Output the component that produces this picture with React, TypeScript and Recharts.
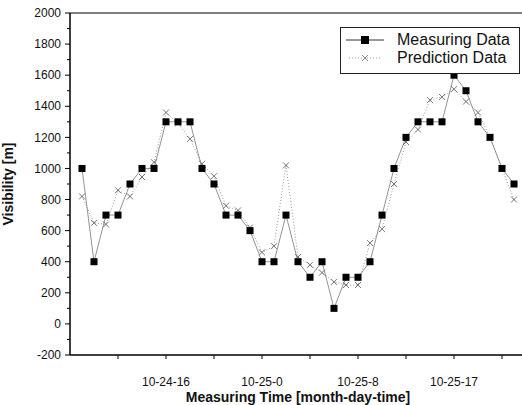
import React from 'react';
import {
  LineChart,
  Line,
  XAxis,
  YAxis,
  ReferenceLine,
  Legend,
  Label,
} from 'recharts';

// hourly samples, 10-24 09:00 onward
const hourIndex = [
  1, 2, 3, 4, 5, 6, 7, 8, 9, 10, 11, 12, 13, 14, 15, 16, 17, 18, 19,
  20, 21, 22, 23, 24, 25, 26, 27, 28, 29, 30, 31, 32, 33, 34, 35, 36, 37,
];

const measured = [
  1000, 400, 700, 700, 900, 1000, 1000, 1300, 1300, 1300, 1000, 900, 700,
  700, 600, 400, 400, 700, 400, 300, 400, 100, 300, 300, 400, 700, 1000,
  1200, 1300, 1300, 1300, 1600, 1500, 1300, 1200, 1000, 900,
];

const predicted = [
  820, 650, 640, 860, 820, 945, 1040, 1360, 1290, 1190, 1030, 950, 760,
  730, 620, 460, 500, 1020, 430, 380, 330, 270, 250, 250, 520, 610, 900,
  1170, 1250, 1440, 1460, 1510, 1430, 1360, 1200, 1000, 800,
];

const xTicks = [4, 8, 12, 16, 20, 24, 28, 32, 36];
const xLabelTicks = [8, 16, 24, 32];
const xLabels = ['10-24-16', '10-25-0', '10-25-8', '10-25-17'];

const yTicks = [
  -200, -100, 0, 100, 200, 300, 400, 500, 600, 700, 800, 900, 1000, 1100,
  1200, 1300, 1400, 1500, 1600, 1700, 1800, 1900, 2000,
];

const data = hourIndex.map((h, i) => ({
  h,
  measured: measured[i],
  predicted: predicted[i],
}));

const FONT = '"Liberation Sans", Arial, sans-serif';

const SquareDot = (props: any) => {
  const { cx, cy } = props;
  if (cx == null || cy == null) return null;
  return <rect x={cx - 3.5} y={cy - 3.5} width={7} height={7} fill="#000" />;
};

const CrossDot = (props: any) => {
  const { cx, cy } = props;
  if (cx == null || cy == null) return null;
  const s = 3;
  return (
    <g stroke="#666" strokeWidth={0.9}>
      <line x1={cx - s} y1={cy - s} x2={cx + s} y2={cy + s} />
      <line x1={cx - s} y1={cy + s} x2={cx + s} y2={cy - s} />
    </g>
  );
};

// y ticks: every 100 gets a mark, every 200 a longer mark and a label
const YTick = (props: any) => {
  const { x, y, payload } = props;
  const v = payload.value;
  const major = v % 200 === 0;
  const axisX = x + 9;
  return (
    <g>
      <line x1={axisX - (major ? 5 : 3)} x2={axisX} y1={y} y2={y} stroke="#000" />
      {major && (
        <text
          x={x}
          y={y}
          dy="0.35em"
          textAnchor="end"
          fontSize={12}
          fontFamily={FONT}
          fill="#111"
        >
          {v}
        </text>
      )}
    </g>
  );
};

const XTick = (props: any) => {
  const { x, y, payload } = props;
  const idx = xLabelTicks.indexOf(payload.value);
  const axisY = y - 22;
  return (
    <g>
      <line x1={x} x2={x} y1={axisY} y2={axisY + 4} stroke="#000" />
      {idx >= 0 && (
        <text
          x={x}
          y={y}
          dy="0.71em"
          textAnchor="middle"
          fontSize={12}
          fontFamily={FONT}
          fill="#111"
        >
          {xLabels[idx]}
        </text>
      )}
    </g>
  );
};

const LegendBox = () => (
  <div
    style={{
      width: 180,
      height: 47,
      border: '1px solid #222',
      background: '#fff',
      fontFamily: FONT,
      fontSize: 16,
      color: '#111',
      boxSizing: 'border-box',
      position: 'relative',
    }}
  >
    <svg width={54} height={45} style={{ position: 'absolute', left: 0, top: 0 }}>
      <line x1={5} x2={43} y1={12} y2={12} stroke="#333" strokeWidth={1} />
      <rect x={20} y={8} width={8} height={8} fill="#000" />
      <line x1={8} x2={40} y1={30} y2={30} stroke="#999" strokeWidth={1} strokeDasharray="1 2" />
      <g stroke="#777" strokeWidth={0.9}>
        <line x1={21} y1={27} x2={27} y2={33} />
        <line x1={21} y1={33} x2={27} y2={27} />
      </g>
    </svg>
    <div style={{ position: 'absolute', left: 56, top: 3, lineHeight: '18px' }}>Measuring Data</div>
    <div style={{ position: 'absolute', left: 56, top: 21, lineHeight: '18px' }}>Prediction Data</div>
  </div>
);

export default function App() {
  return (
    <div
      style={{
        position: 'fixed',
        left: 0,
        top: 0,
        width: 522,
        height: 405,
        overflow: 'hidden',
        background: '#fff',
      }}
    >
      <LineChart
        width={530}
        height={405}
        data={data}
        margin={{ top: 13, right: 4, bottom: 0, left: 0 }}
      >
        <XAxis
          dataKey="h"
          type="number"
          domain={[0, 38]}
          ticks={xTicks}
          interval={0}
          height={50}
          tickSize={4}
          tickMargin={18}
          tickLine={false}
          tick={<XTick />}
          axisLine={{ stroke: '#000', strokeWidth: 1.5 }}
        >
          <Label
            value="Measuring Time [month-day-time]"
            position="insideBottom"
            offset={3}
            style={{ fontFamily: FONT, fontSize: 14, fontWeight: 'bold', fill: '#111' }}
          />
        </XAxis>
        <YAxis
          type="number"
          domain={[-200, 2000]}
          ticks={yTicks}
          interval={0}
          width={70}
          tickSize={5}
          tickMargin={4}
          tickLine={false}
          tick={<YTick />}
          axisLine={{ stroke: '#000', strokeWidth: 1.5 }}
        >
          <Label
            value="Visibility [m]"
            angle={-90}
            position="insideLeft"
            offset={8}
            style={{
              fontFamily: FONT,
              fontSize: 14,
              fontWeight: 'bold',
              fill: '#111',
              textAnchor: 'middle',
            }}
          />
        </YAxis>
        <ReferenceLine y={2000} stroke="#000" strokeWidth={1.2} />
        <Line
          type="linear"
          dataKey="predicted"
          stroke="#999"
          strokeWidth={1}
          strokeDasharray="1 2"
          dot={<CrossDot />}
          activeDot={false}
          isAnimationActive={false}
        />
        <Line
          type="linear"
          dataKey="measured"
          stroke="#777"
          strokeWidth={0.8}
          dot={<SquareDot />}
          activeDot={false}
          isAnimationActive={false}
        />
        <Legend
          layout="vertical"
          align="center"
          verticalAlign="middle"
          content={() => <LegendBox />}
          wrapperStyle={{ position: 'absolute', left: 340, top: 27, width: 180 }}
        />
      </LineChart>
    </div>
  );
}
